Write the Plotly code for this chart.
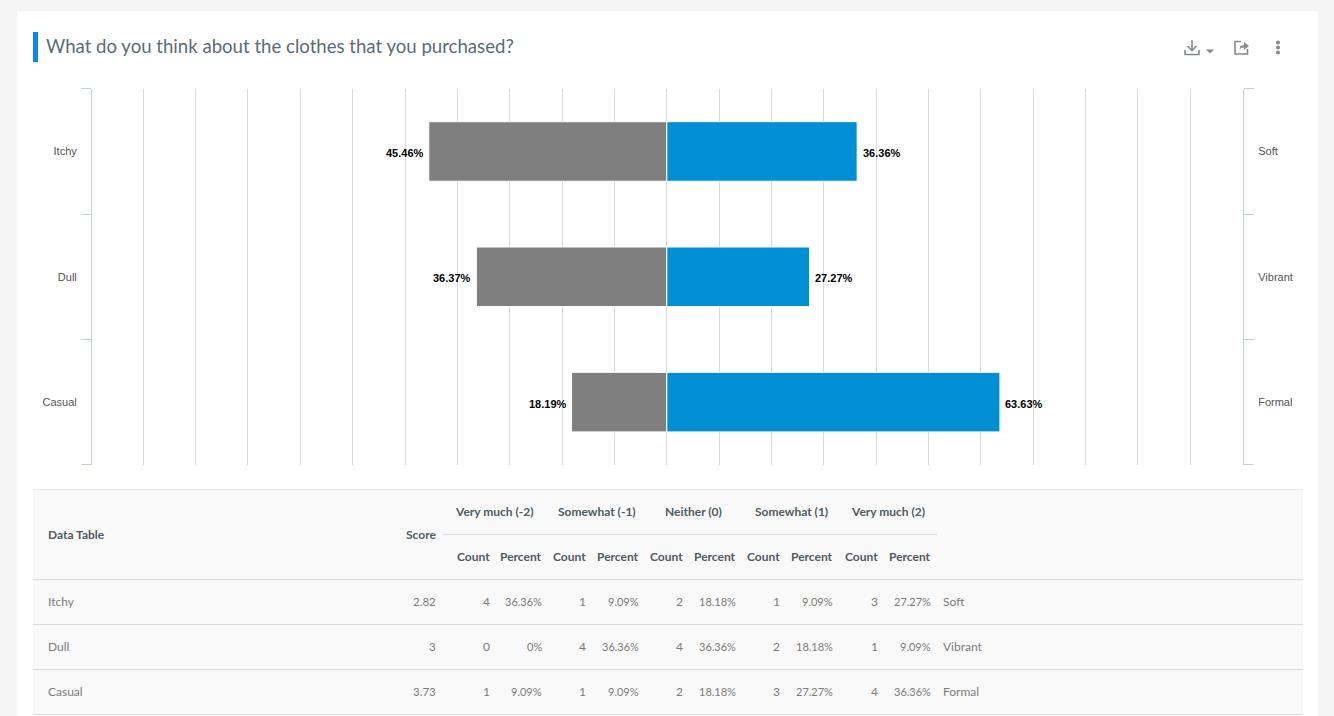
import plotly.graph_objects as go

W, H = 1334, 716

left_labels = ['Itchy', 'Dull', 'Casual']
right_labels = ['Soft', 'Vibrant', 'Formal']
left_pct = [45.46, 36.37, 18.19]
right_pct = [36.36, 27.27, 63.63]

title = 'What do you think about the clothes that you purchased?'
group_headers = ['Very much (-2)', 'Somewhat (-1)', 'Neither (0)', 'Somewhat (1)', 'Very much (2)']
scores = ['2.82', '3', '3.73']
counts = [[4, 1, 2, 1, 3], [0, 4, 4, 2, 1], [1, 1, 2, 3, 4]]
percents = [
    ['36.36%', '9.09%', '18.18%', '9.09%', '27.27%'],
    ['0%', '36.36%', '36.36%', '18.18%', '9.09%'],
    ['9.09%', '9.09%', '18.18%', '27.27%', '36.36%'],
]

TITLE_FONT = 'Lato'
TABLE_FONT = 'Lato'
CHART_FONT = 'Liberation Sans'
HEAD_COLOR = '#4f5b62'
CELL_COLOR = '#7b7b7b'
ICON_COLOR = '#858a8e'
AXIS_COLOR = '#c0d0e0'


def fx(x):
    return x / W


def fy(y):
    return 1 - y / H


def rect(x0, y0, x1, y1, fill, layer='below'):
    return dict(type='rect', xref='paper', yref='paper', x0=fx(x0), x1=fx(x1), y0=fy(y0), y1=fy(y1),
                fillcolor=fill, line_width=0, layer=layer)


def hline(x0, x1, y, color):
    return dict(type='line', xref='paper', yref='paper', x0=fx(x0), x1=fx(x1), y0=fy(y), y1=fy(y),
                line=dict(color=color, width=1), layer='below')


def path(points, close=False, fill=None, width=1.6):
    d = 'M ' + ' L '.join(f'{fx(x):.5f},{fy(y):.5f}' for x, y in points)
    if close:
        d += ' Z'
    return dict(type='path', xref='paper', yref='paper', path=d, fillcolor=fill,
                line=dict(color=ICON_COLOR, width=width))


def text(x, y, s, anchor='left', size=12, color=CELL_COLOR, family=TABLE_FONT, weight=400):
    # annotations keep 2px of padding round the text, take it back here
    shift = {'left': -2, 'right': 2, 'center': 0}[anchor]
    return dict(xref='paper', yref='paper', x=fx(x), y=fy(y), text=s, showarrow=False,
                xanchor=anchor, yanchor='middle', xshift=shift, yshift=0,
                font=dict(family=family, size=size, color=color, weight=weight))


fig = go.Figure()

fig.add_trace(go.Bar(y=left_labels, x=[-v for v in left_pct], orientation='h',
                     marker=dict(color='#7f7f7f', line=dict(color='white', width=1)),
                     hoverinfo='skip'))
fig.add_trace(go.Bar(y=left_labels, x=right_pct, orientation='h',
                     marker=dict(color='#008fd5', line=dict(color='white', width=1)),
                     hoverinfo='skip'))
# only there so the right hand axis gets its categories
fig.add_trace(go.Bar(y=right_labels, x=right_pct, orientation='h', yaxis='y2',
                     opacity=0, hoverinfo='skip'))

shapes = [
    rect(0, 0, W, H, '#f5f5f5'),
    rect(17, 11, 1318, H, 'white'),
    rect(33, 32, 38, 62, '#0f87e6'),
    rect(33, 489.5, 1303, 714.5, '#f9f9f9'),
    hline(33, 1303, 489.5, '#e6e6e6'),
    hline(33, 1303, 579.5, '#dcdcdc'),
    hline(33, 1303, 624.5, '#dcdcdc'),
    hline(33, 1303, 669.5, '#dcdcdc'),
    hline(33, 1303, 714.5, '#dcdcdc'),
    hline(443, 937, 534.5, '#dcdcdc'),
    # last boundary tick does not get drawn by the axis
    hline(81.5, 91.5, 464.5, AXIS_COLOR),
    hline(1243.5, 1253.5, 464.5, AXIS_COLOR),
    # download icon
    path([(1192, 40), (1192, 50)]),
    path([(1187.5, 46), (1192, 50.5), (1196.5, 46)]),
    path([(1185, 50), (1185, 54.5), (1199, 54.5), (1199, 50)]),
    path([(1206, 49.5), (1214, 49.5), (1210, 53.5)], close=True, fill=ICON_COLOR, width=0),
    # share icon
    path([(1241, 41.5), (1235, 41.5), (1235, 54), (1247.5, 54), (1247.5, 49)]),
    path([(1239.5, 50), (1240.5, 46), (1244, 45), (1244, 42), (1249, 46), (1244, 50), (1244, 47.5), (1241, 48)],
         close=True, fill=ICON_COLOR, width=0),
]
for yc in [42.5, 47.5, 52.5]:
    shapes.append(dict(type='circle', xref='paper', yref='paper', fillcolor=ICON_COLOR, line_width=0,
                       x0=fx(1276), x1=fx(1280), y0=fy(yc + 2), y1=fy(yc - 2)))

annotations = [text(46, 46, title, size=18.6, color='#5b6b75', family=TITLE_FONT)]

for lab, v in zip(left_labels, left_pct):
    annotations.append(dict(x=-v, y=lab, xref='x', yref='y', text=f'{v:.2f}%', showarrow=False,
                            xanchor='right', xshift=-3, yshift=-1.5,
                            font=dict(family=CHART_FONT, size=11, color='black', weight=700)))
for lab, v in zip(left_labels, right_pct):
    annotations.append(dict(x=v, y=lab, xref='x', yref='y', text=f'{v:.2f}%', showarrow=False,
                            xanchor='left', xshift=3.5, yshift=-1.5,
                            font=dict(family=CHART_FONT, size=11, color='black', weight=700)))

count_right = [489.5, 586, 683, 780, 877.5]
pct_right = [542, 639, 736, 833, 930.5]
group_mid = [494.5, 596.5, 693.5, 791.5, 887.5]
row_mid = [601.5, 646.5, 691.5]

annotations.append(text(48, 534.5, 'Data Table', color=HEAD_COLOR, weight=700))
annotations.append(text(436, 534.5, 'Score', anchor='right', color=HEAD_COLOR, weight=700))
for name, xc, xr, xp in zip(group_headers, group_mid, count_right, pct_right):
    annotations.append(text(xc, 511.5, name, anchor='center', color=HEAD_COLOR, weight=700))
    annotations.append(text(xr, 556.5, 'Count', anchor='right', color=HEAD_COLOR, weight=700))
    annotations.append(text(xp, 556.5, 'Percent', anchor='right', color=HEAD_COLOR, weight=700))

for i, yc in enumerate(row_mid):
    annotations.append(text(48, yc, left_labels[i]))
    annotations.append(text(436, yc, scores[i], anchor='right', size=11.5))
    annotations.append(text(943, yc, right_labels[i]))
    for j in range(5):
        annotations.append(text(count_right[j], yc, str(counts[i][j]), anchor='right'))
        annotations.append(text(pct_right[j], yc, percents[i][j], anchor='right', size=11))

y_domain = [fy(464.8), fy(88.8)]
fig.update_layout(
    width=W, height=H, margin=dict(l=0, r=0, t=0, b=0),
    paper_bgcolor='#f5f5f5', plot_bgcolor='rgba(0,0,0,0)',
    barmode='overlay', bargap=0.525, showlegend=False,
    shapes=shapes, annotations=annotations,
    xaxis=dict(domain=[fx(90.9), fx(1242.7)], range=[-110, 110], dtick=10, tick0=0,
               showgrid=True, gridcolor='#d8d8d8', gridwidth=1, zeroline=False,
               showticklabels=False, ticks='', showline=False, fixedrange=True),
    yaxis=dict(domain=y_domain, type='category', categoryorder='array',
               categoryarray=left_labels, autorange='reversed', tickson='boundaries',
               anchor='free', position=fx(91),
               ticks='outside', ticklen=10, tickcolor=AXIS_COLOR, tickwidth=1,
               showline=True, linecolor=AXIS_COLOR, linewidth=1, showgrid=False,
               ticklabelstandoff=12,
               tickfont=dict(family=CHART_FONT, size=11, color='#555555'), fixedrange=True),
    yaxis2=dict(domain=y_domain, type='category', categoryorder='array',
                categoryarray=right_labels, autorange='reversed', tickson='boundaries',
                overlaying='y', side='right', anchor='free', position=fx(1243),
                ticks='outside', ticklen=10, tickcolor=AXIS_COLOR, tickwidth=1,
                showline=True, linecolor=AXIS_COLOR, linewidth=1, showgrid=False,
                ticklabelstandoff=12,
                tickfont=dict(family=CHART_FONT, size=11, color='#555555'), fixedrange=True),
)

fig.write_html('out.html', config={'displayModeBar': False},
               post_script="document.body.style.margin='0';")
